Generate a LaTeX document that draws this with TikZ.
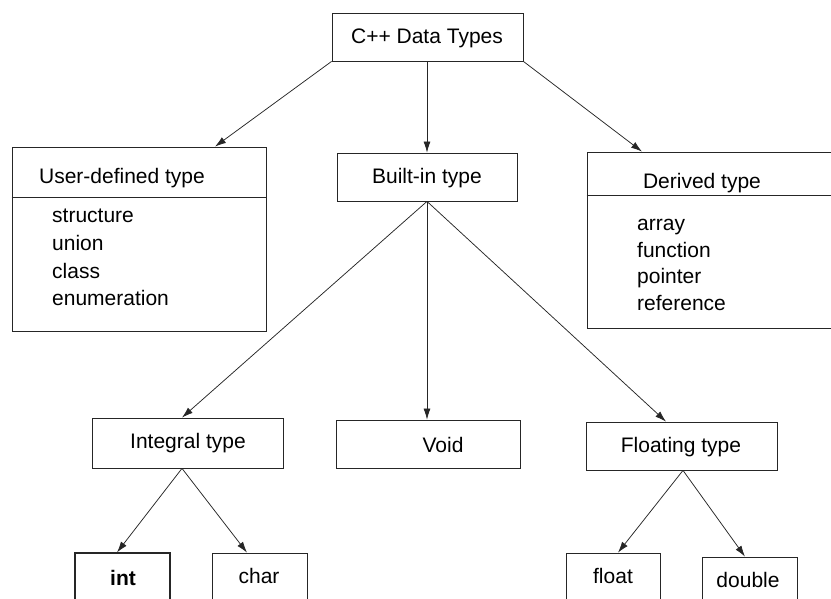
\documentclass[tikz,border=0pt]{standalone}
\usepackage{fontspec}
\setmainfont{Liberation Sans}
\usetikzlibrary{arrows.meta}
\tikzset{
  box/.style={draw=black!85, line width=0.8pt, rectangle, inner sep=0pt, fill=none},
  lbl/.style={inner sep=0pt, font=\fontsize{21}{25}\selectfont, anchor=base},
  item/.style={inner sep=0pt, font=\fontsize{21}{25}\selectfont, anchor=base west},
  conn/.style={draw=black!85, line width=0.75pt, -{Latex[length=11pt,width=7pt]}},
  divider/.style={draw=black!85, line width=0.8pt}
}
\begin{document}
\begin{tikzpicture}[x=1pt,y=-1pt]
\useasboundingbox (0,0) rectangle (831,598);
\clip (0,0) rectangle (831,598);
% boxes
\node[box, minimum width=191pt, minimum height=48pt] (top) at (427.5,37) {};
\node[box, minimum width=254pt, minimum height=184pt] (user) at (139,239) {};
\node[box, minimum width=180pt, minimum height=48pt] (builtin) at (427,177) {};
\node[box, minimum width=258pt, minimum height=176pt] (derived) at (716,240) {};
\node[box, minimum width=191pt, minimum height=50pt] (integral) at (187.5,443) {};
\node[box, minimum width=184pt, minimum height=48pt] (void) at (428,444) {};
\node[box, minimum width=191pt, minimum height=48pt] (floating) at (681.5,446) {};
\node[box, line width=1.1pt, minimum width=95pt, minimum height=51pt] (int) at (122.5,578.5) {};
\node[box, minimum width=95pt, minimum height=51pt] (char) at (259.5,578.5) {};
\node[box, minimum width=94pt, minimum height=51pt] (float) at (613,578.5) {};
\node[box, minimum width=95pt, minimum height=51pt] (double) at (749.5,582.5) {};
% dividers
\draw[divider] (user.west |- 0,197) -- (user.east |- 0,197);
\draw[divider] (derived.west |- 0,195) -- (derived.east |- 0,195);
% labels
\node[lbl] (topl) at (427,43) {C++ Data Types};
\node[lbl] (userl) at (122,183) {User-defined type};
\node[item] (u1) at (52,222) {structure};
\node[item] (u2) at (52,250) {union};
\node[item] (u3) at (52,278) {class};
\node[item] (u4) at (52,305) {enumeration};
\node[lbl] (builtinl) at (427,183) {Built-in type};
\node[lbl] (derivedl) at (702,188) {Derived type};
\node[item] (d1) at (637,230) {array};
\node[item] (d2) at (637,257) {function};
\node[item] (d3) at (637,283) {pointer};
\node[item] (d4) at (637,310) {reference};
\node[lbl] (integrall) at (188,448) {Integral type};
\node[lbl] (voidl) at (443,452) {Void};
\node[lbl] (floatingl) at (681,452) {Floating type};
\node[lbl, font=\fontsize{21}{25}\selectfont\bfseries] (intl) at (123,585) {int};
\node[lbl] (charl) at (259,583) {char};
\node[lbl] (floatl) at (613,583) {float};
\node[lbl] (doublel) at (748,587) {double};
% connectors
\draw[conn] (top.south west) -- ([xshift=76pt]user.north);
\draw[conn] ([xshift=-0.5pt]top.south) -- (builtin.north);
\draw[conn] (top.south east) -- ([xshift=-74pt]derived.north);
\draw[conn] (builtin.south) -- ([xshift=-5.5pt]integral.north);
\draw[conn] (builtin.south) -- ([xshift=-1pt]void.north);
\draw[conn] (builtin.south) -- ([xshift=-15.5pt]floating.north);
\draw[conn] ([xshift=-5.5pt]integral.south) -- ([xshift=-5.5pt]int.north);
\draw[conn] ([xshift=-5.5pt]integral.south) -- ([xshift=-12.5pt]char.north);
\draw[conn] ([xshift=1.5pt]floating.south) -- ([xshift=5pt]float.north);
\draw[conn] ([xshift=1.5pt]floating.south) -- ([xshift=-4.5pt]double.north);
\end{tikzpicture}
\end{document}
